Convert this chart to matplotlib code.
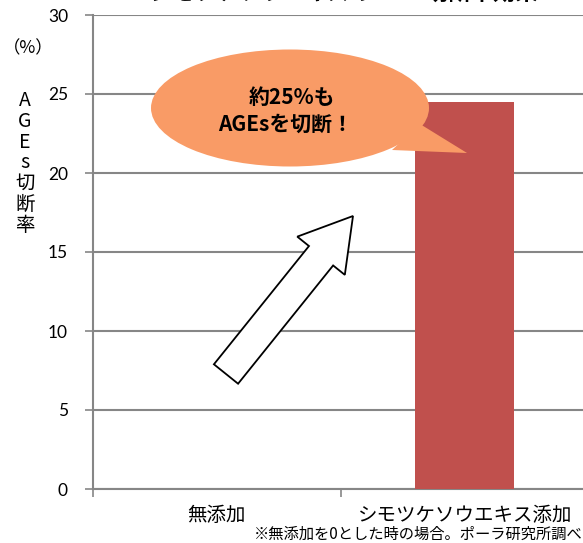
import matplotlib
matplotlib.use('Agg')
import matplotlib.pyplot as plt
import matplotlib.patches as mpatches
from matplotlib.transforms import IdentityTransform

plt.rcParams['font.family'] = ['Noto Sans CJK JP', 'DejaVu Sans']

categories = ['無添加', 'シモツケソウエキス添加']
values = [0, 24.5]
yticks = [0, 5, 10, 15, 20, 25, 30]

W, H = 583, 543
fig = plt.figure(figsize=(W / 100, H / 100), dpi=100)
ax = fig.add_axes([93 / W, (H - 489) / H, (W - 93) / W + 0.01, 474 / H])

grid_c = '#868686'
ax.bar(range(len(categories)), values, width=0.4, color='#C0504D', zorder=3)
ax.set_xlim(-0.5, 1.5)
ax.set_ylim(0, 30)
ax.set_yticks(yticks)
ax.set_yticklabels([str(v) for v in yticks], fontfamily='Lato', fontsize=12.5)
ax.yaxis.grid(True, color=grid_c, linewidth=1.5, zorder=0)
ax.set_axisbelow(True)

# category boundaries as ticks, labels placed by hand under each bar slot
ax.set_xticks([-0.5, 0.5, 1.5])
ax.set_xticklabels([])
ax.tick_params(axis='both', direction='out', length=6, width=1.2, color=grid_c)
ax.tick_params(axis='y', pad=12)
for i, c in enumerate(categories):
    ax.text(i, -1.7, c, ha='center', va='center', fontsize=14,
            transform=ax.transData, clip_on=False)

for s in ['top', 'right']:
    ax.spines[s].set_visible(False)
for s in ['left', 'bottom']:
    ax.spines[s].set_color(grid_c)
    ax.spines[s].set_linewidth(1.5)

# y label: (%) and stacked characters
fig.text(28 / W, 1 - 48 / H, '（%）', ha='center', va='center', fontsize=12.5)
fig.text(25 / W, 1 - 163 / H, '\n'.join('AGEs切断率'), ha='center', va='center',
         fontsize=14, linespacing=0.98)

# footnote
fig.text(1.0, 1 - 534 / H, '※無添加を0とした時の場合。ポーラ研究所調べ', ha='right',
         va='center', fontsize=11)

# title, cut off at the top edge
fig.text(343 / W, 1 - 1 / H, 'シモツケソウエキスのAGEs切断率効果', ha='center',
         va='baseline', fontsize=16, fontweight='bold')

# speech bubble (pixel coords, y from bottom)
def px(x, y):
    return (x, H - y)

orange = '#F99B66'
ell = mpatches.Ellipse(px(290, 108), 278, 117, facecolor=orange, edgecolor='none',
                       transform=IdentityTransform(), zorder=5)
tail = mpatches.Polygon([px(420, 124), px(467, 153), px(392, 150)], closed=True,
                        facecolor=orange, edgecolor='none',
                        transform=IdentityTransform(), zorder=5)
fig.patches.extend([ell, tail])
fig.text(292 / W, 1 - 97 / H, '約25%も', ha='center', va='center', fontsize=15,
         fontweight='bold', zorder=6)
fig.text(286 / W, 1 - 124 / H, 'AGEsを切断！', ha='center', va='center', fontsize=15,
         fontweight='bold', zorder=6)

# block arrow
x0, y0 = px(226, 374)
x1, y1 = px(353, 216)
arr = mpatches.FancyArrow(x0, y0, x1 - x0, y1 - y0, width=31, head_width=61,
                          head_length=51, length_includes_head=True,
                          facecolor='white', edgecolor='black', linewidth=1.3,
                          transform=IdentityTransform(), zorder=5)
fig.patches.append(arr)

fig.savefig('out.png', dpi=100)
